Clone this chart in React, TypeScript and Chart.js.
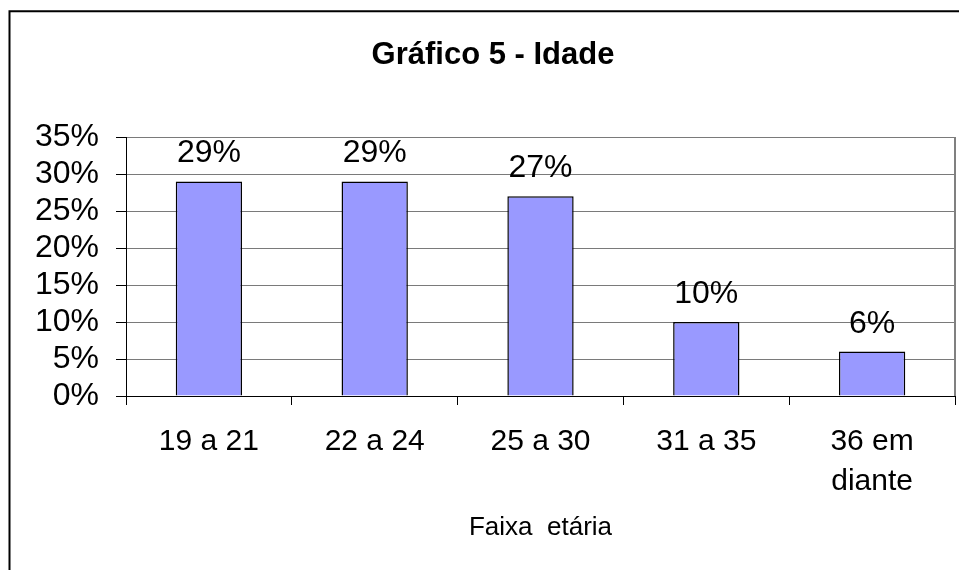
import React, { useEffect, useRef } from "react";
import { Chart, registerables } from "chart.js";

Chart.register(...registerables);

const TITLE = "Gráfico 5 - Idade";
const X_TITLE = "Faixa  etária";
const categories: (string | string[])[] = ["19 a 21", "22 a 24", "25 a 30", "31 a 35", ["36 em", "diante"]];
const values: number[] = [29, 29, 27, 10, 6];
const Y_MIN = 0;
const Y_MAX = 35;
const Y_STEP = 5;

const FONT = "'Liberation Sans', Arial, Helvetica, sans-serif";

export default function App() {
  const ref = useRef<HTMLCanvasElement | null>(null);

  useEffect(() => {
    if (!ref.current) return;

    const decor = {
      id: "decor",
      beforeDraw(chart: any) {
        const { ctx } = chart;
        ctx.save();
        ctx.fillStyle = "#ffffff";
        ctx.fillRect(0, 0, chart.width, chart.height);
        ctx.restore();
      },
      afterDraw(chart: any) {
        const { ctx, chartArea } = chart;
        ctx.save();
        ctx.strokeStyle = "#000000";
        ctx.lineWidth = 2;
        ctx.beginPath();
        ctx.moveTo(9.5, chart.height + 5);
        ctx.lineTo(9.5, 11.3);
        ctx.lineTo(chart.width + 5, 11.3);
        ctx.stroke();
        ctx.strokeStyle = "#808080";
        ctx.lineWidth = 2;
        ctx.beginPath();
        ctx.moveTo(chartArea.right, chartArea.top);
        ctx.lineTo(chartArea.right, chartArea.bottom);
        ctx.stroke();
        ctx.fillStyle = "#000000";
        ctx.font = `bold 31px ${FONT}`;
        ctx.textAlign = "center";
        ctx.textBaseline = "alphabetic";
        ctx.fillText(TITLE, 493, 64);
        ctx.restore();
      },
      afterDatasetsDraw(chart: any) {
        const { ctx } = chart;
        const meta = chart.getDatasetMeta(0);
        ctx.save();
        ctx.fillStyle = "#000000";
        ctx.font = `32px ${FONT}`;
        ctx.textAlign = "center";
        ctx.textBaseline = "alphabetic";
        meta.data.forEach((el: any, i: number) => {
          ctx.fillText(`${values[i]}%`, el.x, el.y - 19);
        });
        ctx.restore();
      },
    };

    const chart = new Chart(ref.current, {
      type: "bar",
      data: {
        labels: categories,
        datasets: [
          {
            data: values,
            backgroundColor: "#9999FF",
            borderColor: "#000000",
            borderWidth: 1.5,
            categoryPercentage: 1,
            barPercentage: 0.4,
          },
        ],
      },
      options: {
        animation: false,
        responsive: false,
        devicePixelRatio: 1,
        layout: { padding: { left: 0, right: 4, top: 137, bottom: 0 } },
        plugins: {
          legend: { display: false },
          title: { display: false },
          tooltip: { enabled: false },
        },
        scales: {
          x: {
            offset: true,
            grid: {
              display: true,
              offset: true,
              drawOnChartArea: false,
              drawTicks: true,
              tickLength: 9,
              tickColor: "#000000",
              tickWidth: 1,
            },
            border: { display: true, color: "#000000", width: 1 },
            ticks: {
              color: "#000000",
              font: { family: FONT, size: 30, lineHeight: 1.333 },
              padding: 17,
              maxRotation: 0,
              autoSkip: false,
            },
            title: {
              display: true,
              text: X_TITLE,
              color: "#000000",
              font: { family: FONT, size: 26, lineHeight: 1.2 },
              padding: { top: 0, bottom: 27 },
            },
            afterFit(scale: any) {
              scale.height = 174;
            },
          },
          y: {
            min: Y_MIN,
            max: Y_MAX,
            grid: {
              color: "#7a7a7a",
              lineWidth: 1,
              drawTicks: true,
              tickLength: 10,
              tickColor: "#000000",
            },
            border: { display: true, color: "#000000", width: 1 },
            ticks: {
              stepSize: Y_STEP,
              autoSkip: false,
              color: "#000000",
              font: { family: FONT, size: 32 },
              padding: 17,
              callback: (v: any) => `${v}%`,
            },
            afterFit(scale: any) {
              scale.width = 126;
            },
          },
        },
      },
      plugins: [decor],
    });

    return () => chart.destroy();
  }, []);

  return (
    <div style={{ position: "fixed", left: 0, top: 0, width: 959, height: 570 }}>
      <canvas ref={ref} width={959} height={570} style={{ display: "block" }} />
    </div>
  );
}
